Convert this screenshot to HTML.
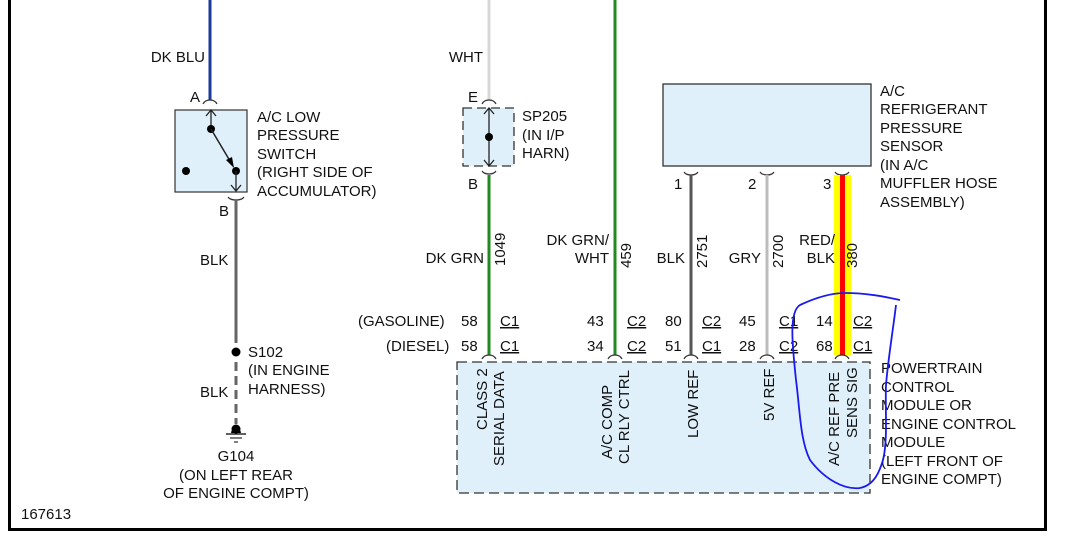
<!DOCTYPE html>
<html><head><meta charset="utf-8"><style>
html,body{margin:0;padding:0;background:#fff;}
svg{display:block;}
text{font-family:"Liberation Sans",Arial,sans-serif;font-size:15px;fill:#111;}
</style></head><body>
<svg width="1069" height="553" viewBox="0 0 1069 553" xmlns="http://www.w3.org/2000/svg">
<!-- frame -->
<path d="M9.5 0 V529.5 H1045.5 V0" fill="none" stroke="#000" stroke-width="3"/>

<!-- left: DK BLU / switch -->
<line x1="210" y1="0" x2="210" y2="100" stroke="#1a3a9a" stroke-width="3"/>
<text x="205" y="62" text-anchor="end">DK BLU</text>
<text x="190" y="102">A</text>
<path d="M203 104 q2 -4 7 -4 q5 0 7 4" fill="none" stroke="#333" stroke-width="1.2"/>
<rect x="175" y="110" width="72" height="82" fill="#dff0fb" stroke="#333" stroke-width="1.2"/>
<line x1="211" y1="110" x2="211" y2="130" stroke="#222" stroke-width="1.3"/>
<path d="M206 116 L211 110 L216 116" fill="none" stroke="#222" stroke-width="1.3"/>
<circle cx="211" cy="129" r="4" fill="#000"/>
<line x1="211" y1="129" x2="233" y2="166" stroke="#222" stroke-width="1.5"/>
<path d="M226 160 L234 168 L232 157 Z" fill="#000"/>
<circle cx="236" cy="171" r="4" fill="#000"/>
<circle cx="186" cy="171" r="4" fill="#000"/>
<line x1="236" y1="171" x2="236" y2="191" stroke="#222" stroke-width="1.3"/>
<path d="M231 185 L236 191 L241 185" fill="none" stroke="#222" stroke-width="1.3"/>
<path d="M228 197 q2 3 8 3 q6 0 8 -3" fill="none" stroke="#333" stroke-width="1.2"/>
<text x="219" y="216">B</text>
<g>
<text x="257" y="122">A/C LOW</text>
<text x="257" y="140">PRESSURE</text>
<text x="257" y="159">SWITCH</text>
<text x="257" y="177">(RIGHT SIDE OF</text>
<text x="257" y="196">ACCUMULATOR)</text>
</g>
<line x1="236" y1="200" x2="236" y2="343" stroke="#666" stroke-width="3"/>
<text x="200" y="265">BLK</text>
<circle cx="236" cy="352" r="4.5" fill="#000"/>
<line x1="236" y1="362" x2="236" y2="424" stroke="#666" stroke-width="3" stroke-dasharray="9,5"/>
<text x="248" y="357">S102</text>
<text x="248" y="375">(IN ENGINE</text>
<text x="248" y="394">HARNESS)</text>
<text x="200" y="397">BLK</text>
<path d="M231 433 a5 5 0 0 1 10 0 Z" fill="#000"/>
<circle cx="236" cy="429" r="4.5" fill="#000"/>
<line x1="226" y1="434" x2="246" y2="434" stroke="#000" stroke-width="1.3"/>
<line x1="230" y1="438" x2="242" y2="438" stroke="#000" stroke-width="1"/>
<line x1="234" y1="442" x2="238" y2="442" stroke="#000" stroke-width="1"/>
<text x="236" y="461" text-anchor="middle">G104</text>
<text x="236" y="480" text-anchor="middle">(ON LEFT REAR</text>
<text x="236" y="498" text-anchor="middle">OF ENGINE COMPT)</text>
<text x="21" y="519">167613</text>

<!-- WHT / SP205 -->
<line x1="489" y1="0" x2="489" y2="100" stroke="#d8d8d8" stroke-width="3"/>
<text x="483" y="62" text-anchor="end">WHT</text>
<text x="468" y="102">E</text>
<path d="M482 104 q2 -4 7 -4 q5 0 7 4" fill="none" stroke="#333" stroke-width="1.2"/>
<rect x="463" y="108" width="51" height="58" fill="#dff0fb" stroke="#333" stroke-width="1.3" stroke-dasharray="9,5"/>
<line x1="489" y1="108" x2="489" y2="166" stroke="#222" stroke-width="1.3"/>
<path d="M484 114 L489 108 L494 114 M484 160 L489 166 L494 160" fill="none" stroke="#222" stroke-width="1.3"/>
<circle cx="489" cy="137" r="4" fill="#000"/>
<path d="M482 171 q2 3 7 3 q5 0 7 -3" fill="none" stroke="#333" stroke-width="1.2"/>
<text x="468" y="189">B</text>
<text x="522" y="121">SP205</text>
<text x="522" y="140">(IN I/P</text>
<text x="522" y="158">HARN)</text>
<line x1="489" y1="175" x2="489" y2="355" stroke="#1f8a1f" stroke-width="3"/>
<text x="484" y="263" text-anchor="end">DK GRN</text>
<text transform="translate(505,266) rotate(-90)">1049</text>

<!-- DK GRN/WHT -->
<line x1="615" y1="0" x2="615" y2="355" stroke="#1f8a1f" stroke-width="3"/>
<text x="609" y="245" text-anchor="end">DK GRN/</text>
<text x="609" y="263" text-anchor="end">WHT</text>
<text transform="translate(631,268) rotate(-90)">459</text>

<!-- sensor -->
<rect x="663" y="84" width="208" height="82" fill="#dff0fb" stroke="#333" stroke-width="1.3"/>
<text x="880" y="96">A/C</text>
<text x="880" y="114">REFRIGERANT</text>
<text x="880" y="133">PRESSURE</text>
<text x="880" y="151">SENSOR</text>
<text x="880" y="170">(IN A/C</text>
<text x="880" y="188">MUFFLER HOSE</text>
<text x="880" y="207">ASSEMBLY)</text>
<path d="M684 172 q2 3 7 3 q5 0 7 -3 M760 172 q2 3 7 3 q5 0 7 -3 M835 172 q2 3 7 3 q5 0 7 -3" fill="none" stroke="#333" stroke-width="1.2"/>
<text x="674" y="189">1</text>
<text x="748" y="189">2</text>
<text x="823" y="189">3</text>
<line x1="691" y1="175" x2="691" y2="355" stroke="#555" stroke-width="3"/>
<line x1="767" y1="175" x2="767" y2="355" stroke="#bcbcbc" stroke-width="3"/>
<rect x="834" y="175" width="17" height="180" fill="#ffff00"/>
<rect x="840" y="175" width="5" height="180" fill="#ff0000"/>
<text x="685" y="263" text-anchor="end">BLK</text>
<text transform="translate(707,268) rotate(-90)">2751</text>
<text x="761" y="263" text-anchor="end">GRY</text>
<text transform="translate(783,268) rotate(-90)">2700</text>
<text x="835" y="245" text-anchor="end">RED/</text>
<text x="835" y="263" text-anchor="end">BLK</text>
<text transform="translate(857,268) rotate(-90)">380</text>

<!-- connector rows -->
<g>
<text x="358" y="326">(GASOLINE)</text>
<text x="386" y="351">(DIESEL)</text>
<text x="461" y="326">58</text><text x="461" y="351">58</text>
<text x="500" y="326" text-decoration="underline">C1</text><text x="500" y="351" text-decoration="underline">C1</text>
<text x="587" y="326">43</text><text x="587" y="351">34</text>
<text x="627" y="326" text-decoration="underline">C2</text><text x="627" y="351" text-decoration="underline">C2</text>
<text x="665" y="326">80</text><text x="665" y="351">51</text>
<text x="702" y="326" text-decoration="underline">C2</text><text x="702" y="351" text-decoration="underline">C1</text>
<text x="739" y="326">45</text><text x="739" y="351">28</text>
<text x="779" y="326" text-decoration="underline">C1</text><text x="779" y="351" text-decoration="underline">C2</text>
<text x="816" y="326">14</text><text x="816" y="351">68</text>
<text x="853" y="326" text-decoration="underline">C2</text><text x="853" y="351" text-decoration="underline">C1</text>
</g>
<path d="M482 359 q2 -4 7 -4 q5 0 7 4 M608 359 q2 -4 7 -4 q5 0 7 4 M684 359 q2 -4 7 -4 q5 0 7 4 M760 359 q2 -4 7 -4 q5 0 7 4 M835 359 q2 -4 7 -4 q5 0 7 4" fill="none" stroke="#333" stroke-width="1.2"/>

<!-- PCM -->
<rect x="457" y="362" width="413" height="131" fill="#dff0fb" stroke="#333" stroke-width="1.3" stroke-dasharray="10,5"/>
<text transform="translate(487,430) rotate(-90)">CLASS 2</text>
<text transform="translate(504,466) rotate(-90)">SERIAL DATA</text>
<text transform="translate(612,459) rotate(-90)">A/C COMP</text>
<text transform="translate(629,464) rotate(-90)">CL RLY CTRL</text>
<text transform="translate(698,438) rotate(-90)">LOW REF</text>
<text transform="translate(774,421) rotate(-90)">5V REF</text>
<text transform="translate(839,466) rotate(-90)">A/C REF PRE</text>
<text transform="translate(857,438) rotate(-90)">SENS SIG</text>
<text x="881" y="373">POWERTRAIN</text>
<text x="881" y="392">CONTROL</text>
<text x="881" y="410">MODULE OR</text>
<text x="881" y="429">ENGINE CONTROL</text>
<text x="881" y="447">MODULE</text>
<text x="881" y="466">(LEFT FRONT OF</text>
<text x="881" y="484">ENGINE COMPT)</text>

<!-- handwritten loop -->
<path d="M900 300 C890 298 870 293 845 293 C830 293 815 298 800 305 C788 312 793 350 796 380 C800 410 800 440 810 460 C825 480 845 490 860 488 C875 485 880 470 883 460 C888 440 885 410 886 385 C888 360 893 330 896 305" fill="none" stroke="#1a1aee" stroke-width="1.8"/>
</svg>
</body></html>
